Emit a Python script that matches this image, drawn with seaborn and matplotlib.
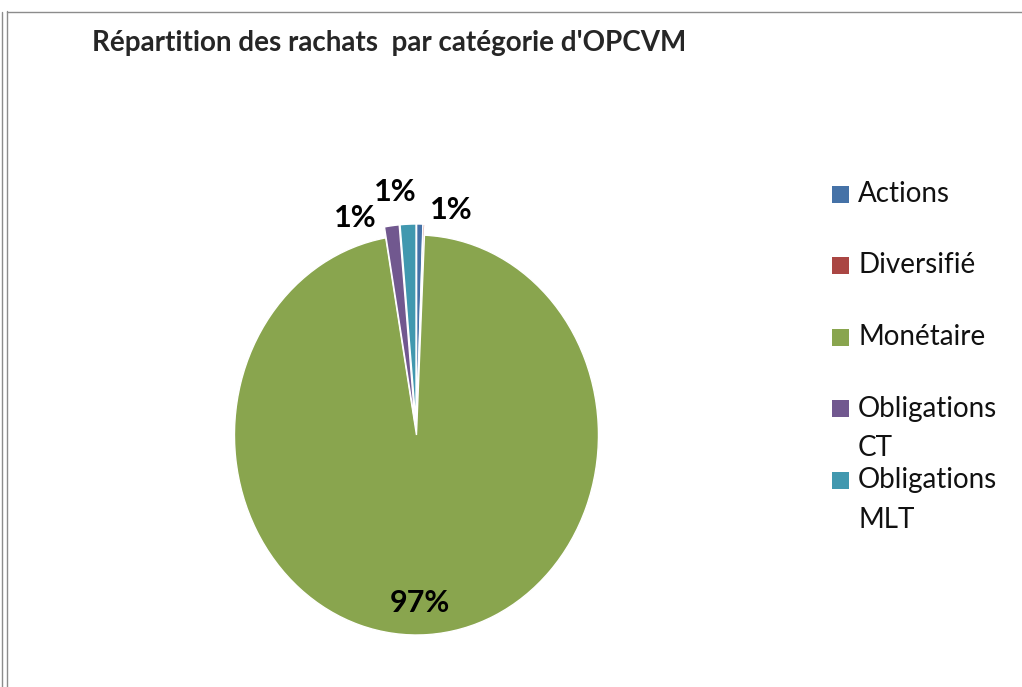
import matplotlib
matplotlib.use("Agg")
import matplotlib.pyplot as plt
import seaborn as sns
import numpy as np
from matplotlib.patches import Rectangle
from matplotlib.lines import Line2D

# Données
categories = ['Actions', 'Diversifié', 'Monétaire', 'Obligations\nCT', 'Obligations\nMLT']
parts = [0.55, 0.15, 96.6, 1.3, 1.4]
couleurs = ['#4572A7', '#AA4643', '#89A54E', '#71588F', '#4198AF']
titre = "Répartition des rachats  par catégorie d'OPCVM"

sns.set_theme(style="white")
plt.rcParams['font.family'] = ['Lato', 'DejaVu Sans']

fig = plt.figure(figsize=(10.22, 6.87), dpi=100)
fig.patch.set_facecolor('white')

# cadre du graphique (style Excel)
W, H = 1022, 687
gris = '#8c8c8c'
fig.add_artist(Line2D([1.5 / W, 1.5 / W], [0, 1 - 12 / H], color=gris, lw=1.0, transform=fig.transFigure))
fig.add_artist(Line2D([6.5 / W, 6.5 / W], [0, 1 - 11 / H], color=gris, lw=1.0, transform=fig.transFigure))
fig.add_artist(Line2D([6.5 / W, 1], [1 - 11.5 / H, 1 - 11.5 / H], color=gris, lw=1.0, transform=fig.transFigure))

fig.text(92 / W, 1 - 51 / H, titre, fontsize=20, fontweight='bold', ha='left', va='baseline')

# camembert (légèrement étiré verticalement comme l'original)
ax = fig.add_axes([0.1938, 0.01747, 0.4274, 0.6987])
palette = sns.color_palette(couleurs)
explode = [0.055 if p < 5 else 0 for p in parts]

def fmt_pct(p):
    return f"{p:.0f}%" if p >= 0.5 else ""

wedges, textes, pcts = ax.pie(parts, colors=palette, startangle=90, counterclock=False,
                              explode=explode, autopct=fmt_pct, pctdistance=0.84,
                              wedgeprops=dict(edgecolor='white', linewidth=1),
                              textprops=dict(fontsize=22, fontweight='bold', color='black'))
ax.set_aspect('auto')
ax.set_xlim(-1.2, 1.2)
ax.set_ylim(-1.2, 1.2)
ax.axis('off')

# positions des étiquettes (placement type Excel "ajustement optimal")
pos_etiquettes = {
    'Actions': (0.19, 1.125),
    'Obligations\nCT': (-0.335, 1.085),
    'Obligations\nMLT': (-0.115, 1.215),
    'Monétaire': (0.02, -0.84),
}
for cat, t in zip(categories, pcts):
    if cat in pos_etiquettes:
        t.set_position(pos_etiquettes[cat])
    t.set_ha('center')
    t.set_va('center')

# légende dessinée à la manière d'Excel
y0 = 194
pas = 71.5
for i, (cat, c) in enumerate(zip(categories, couleurs)):
    y = y0 + i * pas
    fig.add_artist(Rectangle((832 / W, 1 - (y + 8.5) / H), 17 / W, 17 / H,
                             facecolor=c, edgecolor='none', transform=fig.transFigure))
    for j, ligne in enumerate(cat.split('\n')):
        fig.text(858 / W, 1 - (y + j * 40) / H, ligne, fontsize=20,
                 ha='left', va='center', color='#111111')

fig.savefig('out.png', dpi=100, facecolor='white')
